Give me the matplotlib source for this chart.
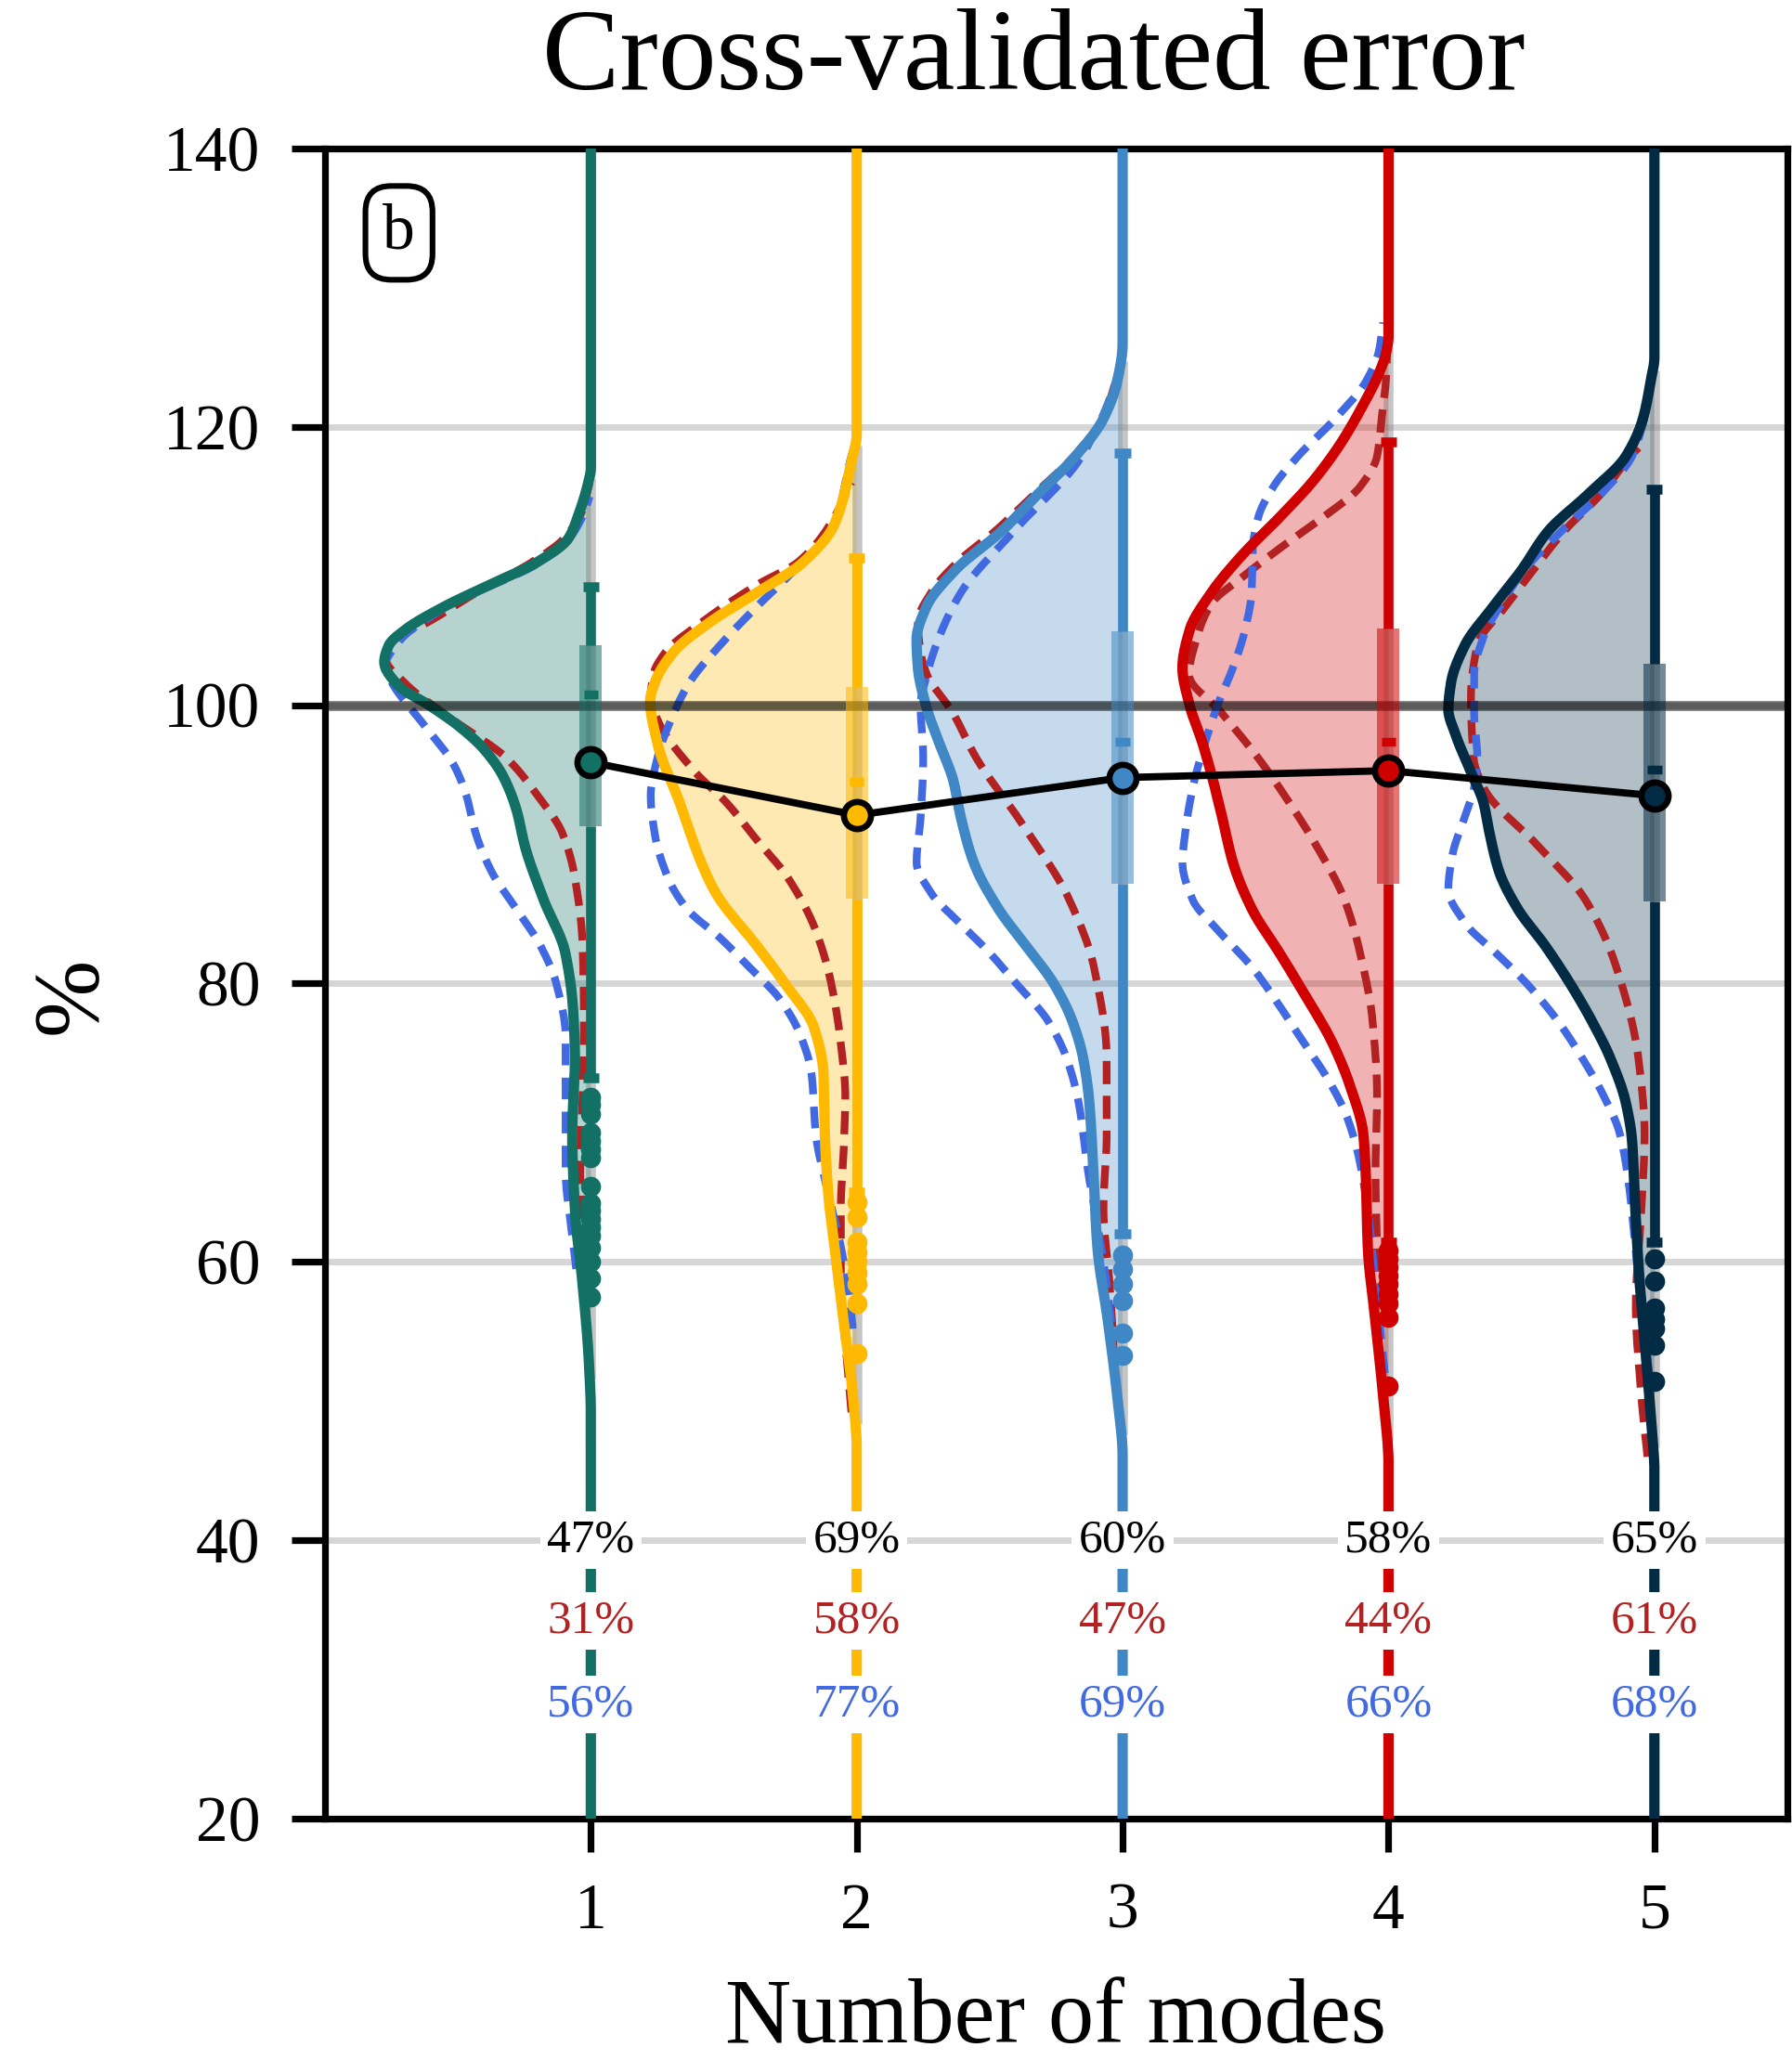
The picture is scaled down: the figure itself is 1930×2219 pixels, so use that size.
import numpy as np
import matplotlib
matplotlib.use("Agg")
import matplotlib.pyplot as plt
from matplotlib.patches import Rectangle

plt.rcParams['font.family'] = ['Liberation Serif', 'DejaVu Serif']

# ---------------- data ----------------
modes = [1, 2, 3, 4, 5]
colors = ['#137065', '#FFB900', '#3F88C5', '#D00000', '#032B43']

# violin half-widths (x units) at error levels (%) for the main model
main_levels = [
    [150, 117, 116, 113.5, 112, 110.3, 108.7, 107.1, 105.4, 104.3, 103.1, 101.4, 100, 98.4, 96.8,
     94.9, 92.5, 89.8, 86.0, 82.2, 77.9, 74.6, 69.2, 63.8, 58.4, 53.0, 49, 10],
    [150, 119.5, 117.5, 113.0, 110.3, 108.1, 106.0, 103.8, 101.6, 100.3, 97.3, 93.0, 88.7, 86.5,
     82.7, 80.0, 76.8, 73.5, 69.2, 64.9, 61.1, 55.7, 50.3, 46.5, 10],
    [150, 126, 123.3, 120.6, 117.9, 115.2, 112.5, 109.7, 107.0, 104.7, 102.7, 100, 97.3, 94.6,
     91.9, 88.7, 85.4, 82.7, 80, 77.3, 74.6, 71.4, 66.5, 61.1, 55.7, 50.3, 46, 10],
    [150, 126.5, 125.4, 123.8, 121.6, 118.9, 116.2, 113.5, 110.8, 108.1, 105.4, 102.7, 100, 97.3,
     94.6, 91.9, 88.7, 85.4, 82.2, 78.9, 75.7, 72.5, 69.2, 66.5, 61.1, 55.7, 50.3, 45.4, 10],
    [150, 125, 123.3, 120.6, 117.9, 115.2, 112.5, 109.7, 107.0, 104.3, 101.6, 99.7, 97.9, 95.2,
     93.0, 90.8, 88.1, 85.4, 82.7, 80, 77.3, 74.6, 71.4, 68.7, 63.8, 58.4, 53, 47.6, 45, 10],
]
main_widths = [
    [0, 0, 0.01, 0.05, 0.084, 0.2, 0.375, 0.55, 0.70, 0.76, 0.777, 0.724, 0.608, 0.49, 0.40,
     0.33, 0.28, 0.247, 0.177, 0.096, 0.066, 0.06, 0.07, 0.06, 0.031, 0.008, 0, 0],
    [0, 0, 0.02, 0.084, 0.2, 0.375, 0.55, 0.69, 0.76, 0.777, 0.75, 0.666, 0.585, 0.53,
     0.375, 0.27, 0.16, 0.125, 0.12, 0.107, 0.084, 0.049, 0.014, 0, 0],
    [0, 0, 0.02, 0.072, 0.177, 0.317, 0.456, 0.63, 0.74, 0.775, 0.77, 0.74, 0.69, 0.637,
     0.608, 0.56, 0.468, 0.363, 0.259, 0.189, 0.148, 0.125, 0.11, 0.095, 0.055, 0.02, 0, 0],
    [0, 0, 0.008, 0.037, 0.095, 0.177, 0.28, 0.41, 0.55, 0.666, 0.748, 0.775, 0.748, 0.70,
     0.66, 0.625, 0.585, 0.515, 0.41, 0.305, 0.21, 0.142, 0.095, 0.086, 0.078, 0.049, 0.02, 0, 0],
    [0, 0, 0.014, 0.043, 0.107, 0.247, 0.40, 0.50, 0.61, 0.713, 0.765, 0.775, 0.748, 0.69,
     0.643, 0.62, 0.585, 0.515, 0.41, 0.317, 0.235, 0.165, 0.107, 0.084, 0.072, 0.055, 0.031, 0.008, 0, 0],
]

# comparison model 1 (red dashed)
red_levels = [
    [116, 115.2, 114.1, 112, 110.3, 108.1, 106, 104.6, 103.3, 101.6, 98.9, 96.2, 93.5, 90.8,
     87.6, 82.7, 77.3, 71.9, 66.5, 62.2, 60.6],
    [116, 113, 110.3, 108.7, 106, 103.8, 102.2, 100.5, 98.9, 95.2, 93.0, 90.3, 87.6, 83.8,
     80.0, 75.7, 71.9, 68.1, 63.8, 58.4, 53.0, 49.2],
    [124.3, 120.6, 117.9, 115.2, 112.5, 110.3, 108.1, 106, 103.8, 102.2, 99.5, 96.2, 91.4, 86,
     81.1, 74.6, 69.2, 63.8, 58.4, 53, 50.3],
    [125.4, 123.3, 120.6, 117.9, 115.7, 113.5, 111.4, 109.2, 107.3, 104.9, 102.2, 99.5, 96.2,
     93, 89.8, 86, 82.2, 77.3, 71.9, 66.5, 61.1, 56.8],
    [118.5, 117.9, 115.2, 112.5, 109.7, 107.1, 104.3, 100.6, 96.2, 94.1, 89.8, 86, 81.1, 74.6,
     69.2, 63.8, 56.8, 50.3, 46],
]
red_widths = [
    [0.005, 0.015, 0.03, 0.10, 0.22, 0.43, 0.61, 0.75, 0.77, 0.70, 0.515, 0.317, 0.2, 0.107,
     0.06, 0.031, 0.026, 0.031, 0.04, 0.03, 0.025],
    [0.02, 0.1, 0.22, 0.37, 0.58, 0.72, 0.765, 0.775, 0.748, 0.608, 0.49, 0.375, 0.259, 0.154,
     0.096, 0.06, 0.043, 0.049, 0.06, 0.06, 0.037, 0.02],
    [0.01, 0.075, 0.183, 0.33, 0.48, 0.62, 0.72, 0.77, 0.76, 0.736, 0.64, 0.55, 0.375, 0.20,
     0.107, 0.06, 0.06, 0.072, 0.049, 0.031, 0.023],
    [0.005, 0.01, 0.026, 0.043, 0.107, 0.247, 0.40, 0.55, 0.666, 0.72, 0.75, 0.63, 0.49,
     0.373, 0.268, 0.165, 0.107, 0.06, 0.043, 0.049, 0.043, 0.031],
    [0.06, 0.09, 0.2, 0.34, 0.456, 0.56, 0.666, 0.69, 0.68, 0.643, 0.433, 0.259, 0.142, 0.06,
     0.037, 0.049, 0.07, 0.049, 0.026],
]

# comparison model 2 (blue dashed)
blue_levels = [
    [115, 114.1, 112, 110.3, 107.1, 104.6, 102.7, 101.6, 98.4, 95.7, 93.5, 90.8, 88.1, 85.4,
     82.7, 80, 76.2, 71.9, 66.5, 62.2, 59.5],
    [118.5, 117.9, 113, 109.7, 107.1, 104.3, 101.6, 98.9, 96.2, 93.5, 90.8, 87.6, 85.4, 83.3,
     81.1, 78.9, 76.2, 73.5, 69.2, 64.9, 61.1, 57.3, 55.2],
    [124, 123.3, 117.9, 112.5, 108.1, 104.9, 102.2, 100, 96.2, 91.9, 88.7, 86.5, 84.3, 82.2,
     80, 77.3, 74.6, 71.4, 66.5, 62.7, 58.4, 55.7],
    [127.5, 125.4, 123.3, 120.6, 117.9, 115.7, 113.5, 111.4, 108.1, 105.4, 102.7, 100, 97.3,
     94.1, 90.8, 88.7, 86, 83.8, 81.1, 78.4, 75.7, 73, 70.3, 67.1, 62.7, 58.4, 54.1, 52],
    [120.6, 117.9, 115.2, 112.5, 109.7, 107, 104.9, 102.2, 99.5, 96.2, 94.1, 92, 89.2, 86.8,
     84.3, 82.2, 80, 77.3, 74.6, 71.9, 69.2, 65.4, 61.1, 56.8, 52],
]
blue_widths = [
    [0.005, 0.02, 0.08, 0.19, 0.54, 0.72, 0.775, 0.748, 0.62, 0.515, 0.468, 0.433, 0.375,
     0.282, 0.189, 0.13, 0.095, 0.095, 0.095, 0.072, 0.055],
    [0.01, 0.02, 0.084, 0.235, 0.375, 0.515, 0.63, 0.70, 0.75, 0.775, 0.76, 0.71, 0.64,
     0.515, 0.40, 0.29, 0.21, 0.17, 0.154, 0.107, 0.06, 0.026, 0.015],
    [0.015, 0.025, 0.154, 0.41, 0.608, 0.69, 0.736, 0.76, 0.75, 0.76, 0.775, 0.72, 0.61,
     0.50, 0.40, 0.28, 0.21, 0.165, 0.13, 0.095, 0.06, 0.043],
    [0.02, 0.037, 0.084, 0.2, 0.34, 0.433, 0.49, 0.51, 0.515, 0.54, 0.585, 0.643, 0.69,
     0.736, 0.765, 0.775, 0.736, 0.64, 0.51, 0.41, 0.317, 0.224, 0.154, 0.107, 0.072, 0.049,
     0.026, 0.014],
    [0.037, 0.084, 0.2, 0.35, 0.49, 0.585, 0.643, 0.678, 0.678, 0.666, 0.678, 0.713, 0.76,
     0.775, 0.71, 0.596, 0.48, 0.363, 0.27, 0.19, 0.13, 0.095, 0.072, 0.049, 0.02],
]

# box statistics: whiskers, quartiles, median, mean
whisker_lo = [73.2, 65.0, 62.0, 61.4, 61.4]
q1 = [91.3, 86.1, 87.2, 87.2, 85.9]
medians = [100.8, 94.5, 97.4, 97.4, 95.4]
q3 = [104.3, 101.3, 105.3, 105.5, 103.0]
whisker_hi = [108.5, 110.6, 118.1, 118.9, 115.5]
means = [95.9, 92.1, 94.8, 95.3, 93.5]

outliers = [
    [71.8, 71.3, 70.6, 69.3, 68.7, 68.1, 67.5, 65.4, 64.2, 63.7, 63.1, 62.5, 61.9, 61.0, 60.0,
     58.8, 57.5],
    [64.3, 63.2, 61.4, 60.7, 60.0, 59.2, 58.4, 57.0, 53.4],
    [60.5, 59.5, 58.4, 57.2, 54.9, 53.3],
    [60.8, 60.2, 59.6, 59.0, 58.4, 57.7, 57.0, 56.0, 51.1],
    [60.2, 58.6, 56.7, 55.9, 55.2, 54.0, 51.4],
]

pct_main = [47, 69, 60, 58, 65]
pct_red = [31, 58, 47, 44, 61]
pct_blue = [56, 77, 69, 66, 68]

RED_DASH = '#B22222'
BLUE_DASH = '#4169E1'


def smooth_profile(levels, widths, n=600):
    """Shape-preserving cubic (PCHIP) curve through the profile knots."""
    y = np.asarray(levels, float)
    w = np.asarray(widths, float)
    order = np.argsort(y)
    y, w = y[order], w[order]
    h = np.diff(y)
    d = np.diff(w) / h
    m = np.zeros_like(y)
    for k in range(1, len(y) - 1):
        if d[k - 1] * d[k] > 0:
            w1 = 2 * h[k] + h[k - 1]
            w2 = h[k] + 2 * h[k - 1]
            m[k] = (w1 + w2) / (w1 / d[k - 1] + w2 / d[k])
    m[0] = d[0] if len(y) > 2 else 0
    m[-1] = d[-1]
    yy = np.linspace(y[0], y[-1], n)
    idx = np.clip(np.searchsorted(y, yy, side='right') - 1, 0, len(h) - 1)
    t = (yy - y[idx]) / h[idx]
    h00 = 2 * t**3 - 3 * t**2 + 1
    h10 = t**3 - 2 * t**2 + t
    h01 = -2 * t**3 + 3 * t**2
    h11 = t**3 - t**2
    ww = h00 * w[idx] + h10 * h[idx] * m[idx] + h01 * w[idx + 1] + h11 * h[idx] * m[idx + 1]
    return yy, np.clip(ww, 0, None)


fig = plt.figure(figsize=(1931 / 200, 2219 / 200), dpi=200)
ax = fig.add_axes([350 / 1931, 1 - 1959 / 2219, 1575 / 1931, 1799 / 2219])

ax.set_xlim(0, 5.5)
ax.set_ylim(20, 140)
ax.set_yticks([20, 40, 60, 80, 100, 120, 140])
ax.set_xticks(modes)
ax.yaxis.grid(True, color='#d6d6d6', lw=2.5, zorder=0)
ax.set_axisbelow(True)
for s in ax.spines.values():
    s.set_linewidth(2.6)
ax.tick_params(axis='both', length=13, width=2.6, labelsize=25)
ax.tick_params(axis='x', pad=12)
ax.tick_params(axis='y', pad=12)

ax.axhline(100, color='k', alpha=0.57, lw=3.8, zorder=3.5)

for i, x in enumerate(modes):
    c = colors[i]
    yy, ww = smooth_profile(main_levels[i], main_widths[i])
    ax.fill_betweenx(yy, x - ww, x, facecolor=c, alpha=0.3, edgecolor='none', zorder=1)
    sup = yy[ww > 0.004]
    ax.plot([x, x], [sup.min(), sup.max()], color='grey', alpha=0.45, lw=3.8, zorder=1.5,
            solid_capstyle='butt')

    yr, wr = smooth_profile(red_levels[i], red_widths[i])
    ax.plot(x - wr, yr, color=RED_DASH, lw=3.0, dashes=(3.0, 1.5), zorder=2)
    yb, wb = smooth_profile(blue_levels[i], blue_widths[i])
    ax.plot(x - wb, yb, color=BLUE_DASH, lw=3.0, dashes=(2.8, 1.6), zorder=2.1)

    ax.plot(x - ww, yy, color=c, lw=4.0, zorder=3)

    # box with whiskers
    ax.add_patch(Rectangle((x - 0.042, q1[i]), 0.084, q3[i] - q1[i], facecolor=c, alpha=0.55,
                           edgecolor='none', zorder=4))
    ax.plot([x, x], [whisker_lo[i], q1[i]], color=c, lw=3.8, zorder=4, solid_capstyle='butt')
    ax.plot([x, x], [q3[i], whisker_hi[i]], color=c, lw=3.8, zorder=4, solid_capstyle='butt')
    for yv in (whisker_lo[i], whisker_hi[i]):
        ax.plot([x - 0.03, x + 0.03], [yv, yv], color=c, lw=3.8, zorder=4, solid_capstyle='butt')
    ax.plot([x - 0.027, x + 0.027], [medians[i], medians[i]], color=c, lw=3.4, zorder=4.2,
            solid_capstyle='butt')
    ax.plot([x] * len(outliers[i]), outliers[i], 'o', color=c, ms=7.8, mew=0, zorder=4)

    # percentage annotations
    for val, yv, tc in ((pct_main[i], 40, 'black'), (pct_red[i], 34.2, RED_DASH),
                        (pct_blue[i], 28.2, BLUE_DASH)):
        ax.text(x, yv, f'{val}%', color=tc, fontsize=18.5, ha='center', va='center', zorder=8,
                bbox=dict(boxstyle='square,pad=0.15', fc='white', ec='none'))

ax.plot(modes, means, color='k', lw=2.8, zorder=6)
for i, x in enumerate(modes):
    ax.plot([x], [means[i]], 'o', ms=10.5, mfc=colors[i], mec='k', mew=2.4, zorder=7)

ax.text(0.0506, 0.9495, 'b', transform=ax.transAxes, ha='center', va='center', fontsize=25,
        zorder=9, bbox=dict(boxstyle='round,pad=0.27,rounding_size=0.4', fc='white',
                            ec='black', lw=2.2))

fig.text(1113 / 1931, 1 - 96 / 2219, 'Cross-validated error', ha='center', va='baseline',
         fontsize=45)
fig.text(1137 / 1931, 1 - 2200 / 2219, 'Number of modes', ha='center', va='baseline',
         fontsize=35.5)
fig.text(78 / 1931, 1 - 1072 / 2219, '%', rotation=90, ha='center', va='center', fontsize=36)

fig.savefig('out.png', dpi=200)
